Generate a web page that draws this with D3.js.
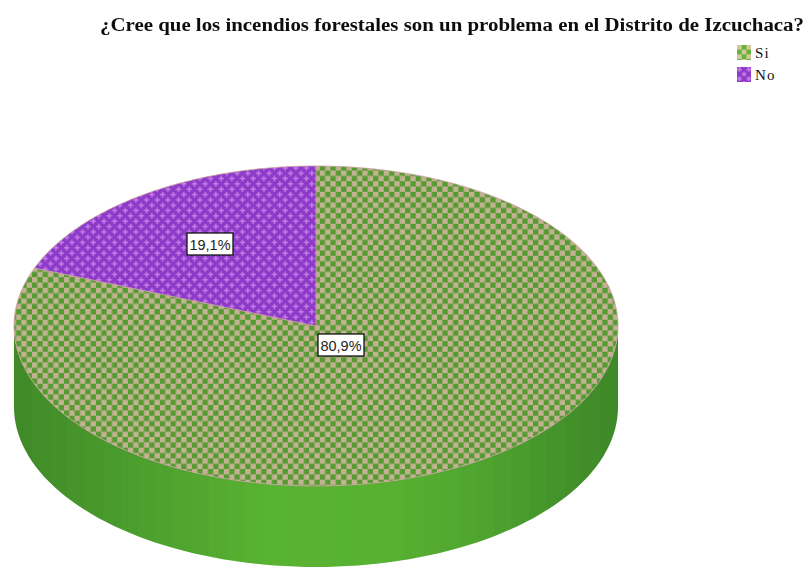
<!DOCTYPE html>
<html><head><meta charset="utf-8">
<script src="https://cdnjs.cloudflare.com/ajax/libs/d3/7.8.5/d3.min.js"></script>
<style>html,body{margin:0;padding:0;background:#fff}svg{display:block}</style>
</head><body><svg id="c" width="806" height="567"></svg>
<script>
const title = "¿Cree que los incendios forestales son un problema en el Distrito de Izcuchaca?";
const categories = ["Si", "No"];
const values = [80.9, 19.1];
const labels = ["80,9%", "19,1%"];

const svg = d3.select("#c");
const defs = svg.append("defs");
const cx = 316, cy = 326, rx = 302, ry = 160, depth = 81;

const cell = 5.33;
function checker(id, a, b, s, ox, oy){
  const p = defs.append("pattern").attr("id", id).attr("patternUnits","userSpaceOnUse")
    .attr("x",ox).attr("y",oy).attr("width",s*2).attr("height",s*2);
  p.append("rect").attr("width",s*2).attr("height",s*2).attr("fill",a);
  p.append("rect").attr("width",s).attr("height",s).attr("fill",b);
  p.append("rect").attr("x",s).attr("y",s).attr("width",s).attr("height",s).attr("fill",b);
}
checker("pSi","#569a33","#c2b292",cell,0,0);
function plus(id, s, ox, oy, arm, th){
  const p = defs.append("pattern").attr("id", id).attr("patternUnits","userSpaceOnUse")
    .attr("x",ox).attr("y",oy).attr("width",s).attr("height",s);
  p.append("rect").attr("width",s).attr("height",s).attr("fill","#8c3ac8");
  [[s/4,s/4],[3*s/4,3*s/4]].forEach(([x,y])=>{
    p.append("rect").attr("x",x-arm).attr("y",y-th/2).attr("width",arm*2).attr("height",th).attr("fill","#c67ce6");
    p.append("rect").attr("x",x-th/2).attr("y",y-arm).attr("width",th).attr("height",arm*2).attr("fill","#c67ce6");
  });
}
plus("pNo",cell*2,0,0,2.7,1.5);
checker("lSi","#62b53c","#d6c89a",4.7,737,45);
plus("lNo",9.4,737,67,2.4,1.8);

const blur = defs.append("filter").attr("id","soft");
blur.append("feGaussianBlur").attr("stdDeviation",0.4);
const blurT = defs.append("filter").attr("id","softT").attr("x","-5%").attr("y","-20%").attr("width","110%").attr("height","140%");
blurT.append("feGaussianBlur").attr("stdDeviation",0.3);

const sx = d3.scaleLinear().domain([-1,1]).range([cx-rx,cx+rx]);
const sy = d3.scaleLinear().domain([-1,1]).range([cy-ry,cy+ry]);
const pie = d3.pie().sort(null)(values);

// side wall: faceted gradient
const grad = defs.append("linearGradient").attr("id","wall").attr("gradientUnits","userSpaceOnUse")
  .attr("x1",cx-rx).attr("x2",cx+rx).attr("y1",0).attr("y2",0);
const wallColor = d3.scaleLinear()
  .domain([0,0.12,0.3,0.42,0.62,0.78,0.9,1])
  .range(["#3f8a28","#47962b","#51a72f","#59b332","#58b131","#4ea42e","#45932b","#3e8827"]);
const bands = 34;
d3.range(bands).forEach(i=>{
  const c = wallColor((i+0.5)/bands);
  grad.append("stop").attr("offset",i/bands).attr("stop-color",c);
  grad.append("stop").attr("offset",(i+1)/bands).attr("stop-color",c);
});
const lower = d3.range(90,270.01,2).map(d=>d*Math.PI/180);
const wall = d3.area().x(a=>sx(Math.sin(a))).y0(a=>sy(-Math.cos(a))).y1(a=>sy(-Math.cos(a))+depth);
svg.append("path").attr("d",wall(lower)).attr("fill","url(#wall)");

// top slices
const line = d3.line().x(p=>p[0]).y(p=>p[1]);
function slicePts(d){
  const n = Math.ceil((d.endAngle-d.startAngle)*60);
  const pts = [[cx,cy]];
  d3.range(n+1).forEach(i=>{
    const a = d.startAngle+(d.endAngle-d.startAngle)*i/n;
    pts.push([sx(Math.sin(a)),sy(-Math.cos(a))]);
  });
  return pts;
}
const gTop = svg.append("g").attr("filter","url(#soft)");
gTop.selectAll("path").data(pie).join("path")
  .attr("d",d=>line(slicePts(d))+"Z")
  .attr("fill",(d,i)=>i===0?"url(#pSi)":"url(#pNo)")
  .attr("stroke","#c8a0a0").attr("stroke-width",0.8).attr("stroke-linejoin","round");

// title
svg.append("text").attr("x",452).attr("y",31).attr("text-anchor","middle").attr("filter","url(#softT)")
  .attr("font-family","'Liberation Serif',serif").attr("font-weight","bold").attr("font-size",18)
  .attr("textLength",704).attr("lengthAdjust","spacingAndGlyphs").attr("fill","#111").text(title);

// legend
const legY = d3.scalePoint().domain(categories).range([53,75]);
const leg = svg.append("g").selectAll("g").data(categories).join("g");
leg.append("rect").attr("x",737).attr("y",c=>legY(c)-8).attr("width",14).attr("height",15)
  .attr("fill",(c,i)=>i===0?"url(#lSi)":"url(#lNo)");
leg.append("text").attr("x",755).attr("y",c=>legY(c)+5)
  .attr("font-family","'Liberation Serif',serif").attr("font-size",15).attr("letter-spacing",1.2).attr("fill","#111").text(c=>c);

// value labels
const labelPos = [[341,345],[210,244]];
const lab = svg.append("g").selectAll("g").data(labels).join("g")
  .attr("transform",(d,i)=>`translate(${labelPos[i]})`);
lab.append("rect").attr("x",-23).attr("y",-11).attr("width",46).attr("height",22)
  .attr("fill","#fff").attr("stroke","#111").attr("stroke-width",1.3);
lab.append("text").attr("text-anchor","middle").attr("y",5.5)
  .attr("font-family","'Liberation Sans',sans-serif").attr("font-size",14.5).attr("textLength",41)
  .attr("lengthAdjust","spacingAndGlyphs").attr("fill","#222").text(d=>d);
</script></body></html>
